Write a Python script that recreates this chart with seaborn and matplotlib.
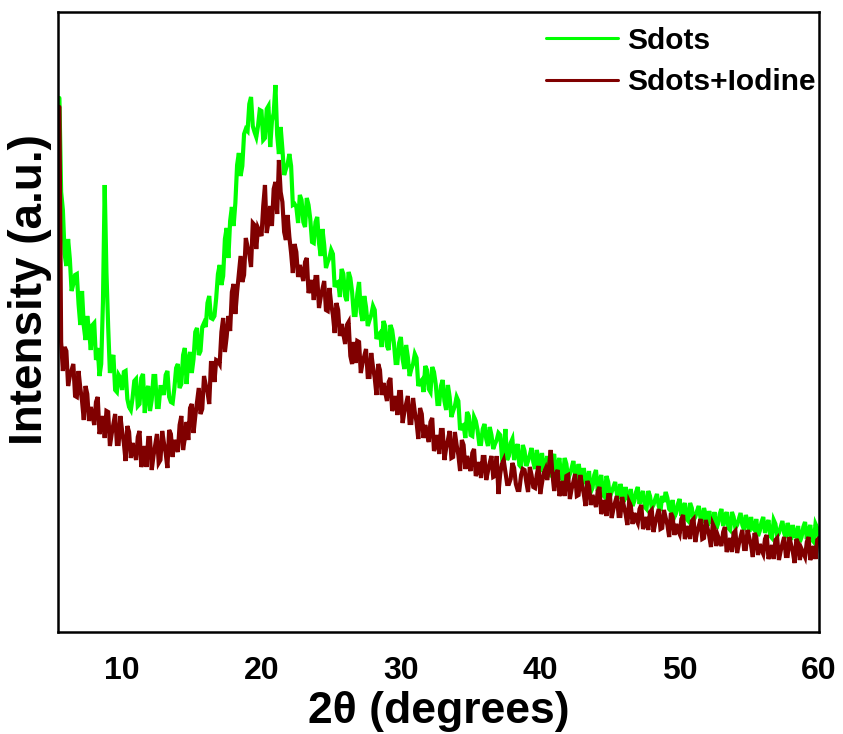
import numpy as np
import pandas as pd
import matplotlib
matplotlib.use("Agg")
import matplotlib.pyplot as plt
import seaborn as sns

# Readings at 0.25 deg steps from 5.5 to 60 deg (2-theta),
# plus readings at the midpoints between them (5.625 ... 59.875 deg).
grid_start, grid_end = 5.5, 60.0
mid_start, mid_end = 5.625, 59.875

# Sdots intensity (a.u.) on the 0.25 deg grid; rows start at integer degrees
sdots = [
    534, 422,
    366, 373, 348, 358,   # 6
    307, 306, 316, 282,   # 7
    309, 284, 268, 447,   # 8
    305, 272, 242, 257,   # 9
    242, 261, 225, 234,   # 10
    253, 228, 258, 241,   # 11
    221, 256, 225, 245,   # 12
    237, 261, 230, 244,   # 13
    268, 248, 284, 272,   # 14
    259, 300, 277, 305,   # 15
    305, 336, 313, 334,   # 16
    367, 356, 404, 411,   # 17
    406, 467, 456, 498,   # 18
    501, 535, 500, 506,   # 19
    521, 494, 526, 511,   # 20
    547, 478, 483, 463,   # 21
    478, 427, 425, 437,   # 22
    410, 434, 413, 389,   # 23
    415, 376, 387, 370,   # 24
    382, 345, 350, 363,   # 25
    336, 360, 340, 317,   # 26
    350, 311, 325, 312,   # 27
    326, 293, 299, 311,   # 28
    286, 307, 289, 269,   # 29
    295, 263, 275, 263,   # 30
    278, 246, 252, 266,   # 31
    243, 265, 248, 228,   # 32
    252, 222, 235, 221,   # 33
    235, 202, 207, 220,   # 34
    197, 215, 202, 188,   # 35
    208, 186, 197, 188,   # 36
    199, 176, 203, 176,   # 37
    193, 181, 167, 187,   # 38
    166, 177, 170, 182,   # 39
    160, 165, 176, 160,   # 40
    178, 167, 154, 174,   # 41
    153, 164, 157, 168,   # 42
    145, 151, 161, 144,   # 43
    162, 150, 137, 156,   # 44
    135, 145, 138, 148,   # 45
    130, 134, 143, 131,   # 46
    145, 136, 125, 141,   # 47
    124, 133, 126, 136,   # 48
    140, 123, 132, 119,   # 49
    133, 124, 113, 129,   # 50
    112, 121, 114, 124,   # 51
    106, 110, 120, 108,   # 52
    123, 114, 104, 120,   # 53
    104, 113, 107, 117,   # 54
    100, 104, 113, 101,   # 55
    115, 107, 96, 112,    # 56
    96, 105, 99, 109,     # 57
    92, 96, 106, 95,      # 58
    110, 101, 92, 108,    # 59
    93,                   # 60
]

# Sdots intensity at the midpoints (5.625, 5.875, then d+.125 ... d+.875)
sdots_mid = [
    440, 378,
    393, 341, 357, 328,   # 6
    341, 292, 302, 307,   # 7
    272, 256, 330, 360,   # 8
    259, 277, 240, 254,   # 9
    260, 233, 222, 251,   # 10
    226, 254, 219, 246,   # 11
    232, 256, 225, 245,   # 12
    257, 235, 229, 264,   # 13
    244, 277, 248, 280,   # 14
    273, 304, 281, 309,   # 15
    329, 314, 316, 358,   # 16
    347, 393, 374, 425,   # 17
    429, 479, 466, 503,   # 18
    528, 506, 495, 522,   # 19
    492, 523, 485, 519,   # 20
    497, 505, 457, 468,   # 21
    466, 428, 409, 432,   # 22
    405, 427, 390, 410,   # 23
    389, 403, 364, 374,   # 24
    378, 349, 335, 358,   # 25
    331, 354, 317, 338,   # 26
    320, 336, 306, 317,   # 27
    322, 297, 285, 306,   # 28
    282, 302, 269, 289,   # 29
    273, 287, 256, 268,   # 30
    274, 250, 240, 262,   # 31
    240, 260, 228, 246,   # 32
    231, 247, 215, 226,   # 33
    231, 206, 194, 216,   # 34
    196, 211, 188, 203,   # 35
    193, 205, 183, 192,   # 36
    197, 179, 172, 189,   # 37
    172, 188, 165, 181,   # 38
    171, 184, 163, 173,   # 39
    179, 161, 155, 173,   # 40
    157, 174, 152, 168,   # 41
    158, 171, 150, 159,   # 42
    164, 147, 140, 157,   # 43
    141, 157, 135, 150,   # 44
    140, 150, 133, 141,   # 45
    145, 132, 126, 140,   # 46
    128, 141, 123, 136,   # 47
    127, 138, 121, 130,   # 48
    134, 121, 115, 128,   # 49
    116, 129, 111, 124,   # 50
    115, 126, 109, 117,   # 51
    121, 109, 103, 118,   # 52
    106, 120, 102, 115,   # 53
    107, 119, 102, 111,   # 54
    115, 102, 96, 110,    # 55
    99, 112, 94, 108,     # 56
    99, 111, 94, 103,     # 57
    107, 95, 90, 105,     # 58
    93, 107, 90, 104,     # 59
]

# Sdots+Iodine intensity (a.u.) on the 0.25 deg grid
sdots_iodine = [
    525, 261,
    281, 256, 268, 235,   # 6
    244, 212, 238, 225,   # 7
    207, 235, 205, 194,   # 8
    220, 198, 218, 188,   # 9
    201, 171, 200, 189,   # 10
    172, 201, 173, 165,   # 11
    194, 176, 198, 172,   # 12
    189, 164, 198, 192,   # 13
    180, 216, 194, 192,   # 14
    228, 216, 244, 223,   # 15
    247, 228, 269, 272,   # 16
    268, 314, 295, 301,   # 17
    348, 340, 376, 357,   # 18
    385, 365, 407, 404,   # 19
    396, 447, 410, 406,   # 20
    450, 472, 430, 392,   # 21
    395, 359, 380, 367,   # 22
    351, 374, 344, 332,   # 23
    355, 335, 351, 321,   # 24
    328, 299, 322, 308,   # 25
    288, 310, 268, 269,   # 26
    290, 269, 283, 255,   # 27
    265, 237, 262, 249,   # 28
    231, 254, 227, 217,   # 29
    240, 220, 236, 209,   # 30
    220, 193, 218, 207,   # 31
    190, 214, 187, 178,   # 32
    202, 184, 201, 175,   # 33
    187, 161, 187, 176,   # 34
    161, 183, 161, 154,   # 35
    175, 161, 176, 156,   # 36
    138, 168, 160, 148,   # 37
    169, 148, 142, 163,   # 38
    150, 165, 145, 157,   # 39
    138, 159, 152, 182,   # 40
    141, 162, 142, 136,   # 41
    157, 143, 158, 137,   # 42
    147, 126, 146, 137,   # 43
    125, 145, 123, 116,   # 44
    137, 123, 136, 116,   # 45
    126, 107, 126, 119,   # 46
    109, 127, 108, 102,   # 47
    122, 109, 123, 104,   # 48
    114, 95, 115, 108,    # 49
    98, 117, 99, 93,      # 50
    113, 100, 113, 94,    # 51
    104, 85, 104, 96,     # 52
    86, 105, 86, 80,      # 53
    101, 88, 102, 83,     # 54
    94, 75, 95, 88,       # 55
    78, 97, 79, 73,       # 56
    94, 81, 95, 76,       # 57
    87, 69, 89, 83,       # 58
    75, 95, 78, 73,       # 59
    94,                   # 60
]

# Sdots+Iodine intensity at the midpoints
sdots_iodine_mid = [
    290, 285,
    246, 262, 236, 261,   # 6
    231, 246, 211, 217,   # 7
    230, 198, 216, 221,   # 8
    186, 208, 188, 216,   # 9
    189, 206, 174, 181,   # 10
    195, 165, 186, 194,   # 11
    162, 187, 169, 201,   # 12
    179, 202, 175, 187,   # 13
    207, 182, 210, 224,   # 14
    199, 230, 218, 256,   # 15
    240, 269, 250, 271,   # 16
    300, 280, 316, 340,   # 17
    318, 358, 350, 394,   # 18
    378, 409, 383, 400,   # 19
    426, 399, 426, 443,   # 20
    418, 440, 400, 417,   # 21
    379, 388, 355, 359,   # 22
    370, 339, 352, 355,   # 23
    324, 343, 322, 344,   # 24
    317, 329, 296, 298,   # 25
    307, 276, 290, 291,   # 26
    259, 276, 255, 279,   # 27
    254, 268, 237, 240,   # 28
    250, 221, 236, 240,   # 29
    209, 228, 209, 234,   # 30
    210, 224, 194, 198,   # 31
    210, 181, 197, 202,   # 32
    172, 192, 174, 200,   # 33
    177, 192, 163, 168,   # 34
    179, 156, 170, 175,   # 35
    152, 169, 155, 176,   # 36
    158, 172, 148, 153,   # 37
    164, 142, 157, 162,   # 38
    140, 157, 144, 166,   # 39
    149, 163, 165, 158,   # 40
    158, 136, 151, 156,   # 41
    133, 150, 136, 157,   # 42
    138, 151, 127, 131,   # 43
    141, 118, 132, 137,   # 44
    114, 130, 116, 135,   # 45
    118, 130, 108, 113,   # 46
    123, 103, 115, 120,   # 47
    100, 116, 103, 122,   # 48
    107, 119, 97, 102,    # 49
    113, 93, 106, 111,    # 50
    90, 106, 93, 112,     # 51
    96, 108, 86, 91,      # 52
    100, 80, 94, 99,      # 53
    79, 95, 83, 102,      # 54
    87, 99, 77, 82,       # 55
    93, 73, 87, 92,       # 56
    72, 88, 76, 95,       # 57
    80, 93, 72, 79,       # 58
    90, 72, 86, 92,       # 59
]

series_names = ["Sdots", "Sdots+Iodine"]
series_colors = {"Sdots": "#00ff00", "Sdots+Iodine": "#800000"}
x_ticks = [10, 20, 30, 40, 50, 60]

assert len(sdots) == len(sdots_iodine)
assert len(sdots_mid) == len(sdots_iodine_mid) == len(sdots) - 1
x_grid = np.linspace(grid_start, grid_end, len(sdots))
x_mid = np.linspace(mid_start, mid_end, len(sdots_mid))

frames = []
for name, on_grid, on_mid in [("Sdots", sdots, sdots_mid),
                              ("Sdots+Iodine", sdots_iodine, sdots_iodine_mid)]:
    frames.append(pd.DataFrame({"two_theta": x_grid, "intensity": on_grid, "sample": name}))
    frames.append(pd.DataFrame({"two_theta": x_mid, "intensity": on_mid, "sample": name}))
df = pd.concat(frames, ignore_index=True).sort_values(["sample", "two_theta"])

sns.set_style("white")
plt.rcParams["font.family"] = ["Liberation Sans", "DejaVu Sans"]
plt.rcParams["font.weight"] = "bold"
plt.rcParams["text.color"] = "black"
plt.rcParams["axes.labelcolor"] = "black"
plt.rcParams["xtick.color"] = "black"
plt.rcParams["ytick.color"] = "black"

fig = plt.figure(figsize=(8.43, 7.34), dpi=100)
ax = fig.add_axes([58 / 843, 102 / 734, 761 / 843, 620 / 734])

sns.lineplot(data=df, x="two_theta", y="intensity", hue="sample",
             hue_order=series_names, palette=series_colors,
             estimator=None, sort=True, linewidth=3.0, ax=ax)
for line in ax.get_lines():
    line.set_solid_joinstyle("miter")

ax.set_xlim(5.4, 60)
ax.set_ylim(0, 620)
ax.set_xticks(x_ticks)
ax.set_xticklabels([str(t) for t in x_ticks], fontsize=23, fontweight="bold", color="black")
ax.set_yticks([])
ax.tick_params(axis="x", direction="out", length=9, width=1.6, pad=8, colors="black")

for s in ax.spines.values():
    s.set_visible(True)
    s.set_linewidth(1.8)
    s.set_color("black")

ax.set_xlabel("2θ (degrees)", fontsize=32, fontweight="bold", labelpad=4, color="black")
ax.set_ylabel("Intensity (a.u.)", fontsize=33, fontweight="bold", color="black")
ax.yaxis.set_label_coords(-0.008, 0.552)

handles, labels = ax.get_legend_handles_labels()
for h in handles:
    h.set_linewidth(2.2)
    h.set_solid_joinstyle("round")
leg = ax.legend(handles, labels, loc="upper right", bbox_to_anchor=(0.995, 0.976),
                frameon=False, fontsize=21.5, handlelength=2.4, handletextpad=0.3,
                labelspacing=0.45, borderaxespad=0, borderpad=0)
for t in leg.get_texts():
    t.set_fontweight("bold")
    t.set_color("black")

fig.savefig("out.png", dpi=100)
